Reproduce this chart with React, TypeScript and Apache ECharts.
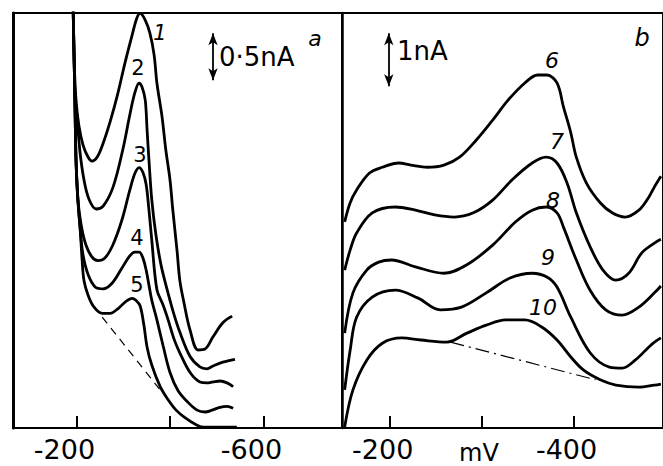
import React, { useEffect, useRef } from "react";
import * as echarts from "echarts";

// Panel a: potential (mV) vs current (nA)
const tickValuesA = [-200, -400, -600];
const labelValuesA = [-200, -600];
const tickValuesB = [-200, -300, -400];
const labelValuesB = [-200, -400];

const curve1 = [[-193,4.43],[-195,3.91],[-199,3.49],[-205,3.22],[-214,3.01],[-225,2.88],[-233,2.84],[-244,2.88],[-257,3.03],[-272,3.26],[-287,3.53],[-304,3.89],[-319,4.18],[-329,4.36],[-336,4.41],[-347,4.34],[-357,4.20],[-366,3.97],[-372,3.67],[-383,3.31],[-391,2.96],[-400,2.64],[-406,2.32],[-415,1.89],[-421,1.57],[-430,1.33],[-443,1.04],[-460,0.83],[-475,0.84],[-492,0.97],[-513,1.12],[-533,1.19]];
const curve2 = [[-201,3.35],[-207,2.96],[-216,2.64],[-227,2.43],[-242,2.33],[-257,2.36],[-278,2.56],[-299,2.96],[-314,3.33],[-325,3.57],[-334,3.67],[-340,3.63],[-347,3.49],[-351,3.17],[-355,2.85],[-361,2.43],[-370,2.05],[-381,1.73],[-394,1.47],[-409,1.20],[-421,1.02],[-443,0.76],[-464,0.65],[-479,0.63],[-492,0.66],[-513,0.70],[-539,0.73]];
const curve3 = [[-193,4.43],[-195,3.91],[-197,3.38],[-199,2.85],[-203,2.43],[-210,2.16],[-220,1.95],[-233,1.82],[-246,1.78],[-261,1.81],[-278,1.95],[-297,2.21],[-314,2.53],[-325,2.71],[-334,2.77],[-342,2.72],[-349,2.59],[-355,2.32],[-361,2.00],[-372,1.47],[-385,1.31],[-396,1.15],[-409,0.94],[-421,0.80],[-443,0.59],[-464,0.49],[-479,0.48],[-492,0.49],[-507,0.50],[-522,0.48],[-535,0.44]];
const curve4 = [[-193,4.43],[-195,3.91],[-197,3.38],[-199,2.85],[-203,2.43],[-208,2.11],[-214,1.84],[-225,1.63],[-240,1.50],[-257,1.48],[-276,1.54],[-297,1.70],[-314,1.83],[-325,1.87],[-334,1.87],[-342,1.81],[-349,1.68],[-355,1.52],[-361,1.36],[-372,1.15],[-385,0.88],[-400,0.59],[-417,0.40],[-439,0.27],[-458,0.19],[-475,0.17],[-490,0.19],[-507,0.22],[-522,0.23],[-535,0.21]];
const curve5 = [[-193,4.43],[-195,3.91],[-197,3.38],[-199,2.85],[-203,2.43],[-208,2.11],[-212,1.79],[-216,1.57],[-225,1.41],[-237,1.29],[-255,1.22],[-272,1.22],[-289,1.27],[-304,1.34],[-319,1.38],[-327,1.36],[-336,1.30],[-344,1.10],[-351,0.86],[-361,0.67],[-379,0.44],[-396,0.30],[-413,0.19],[-432,0.11],[-454,0.04],[-471,0.01],[-496,0.01],[-543,0.01]];
const baselineA = [[-255,1.18],[-383,0.38]];

// Panel b
const curve6 = [[-151,3.89],[-157,4.25],[-164,4.49],[-178,4.81],[-192,4.92],[-210,5.00],[-223,4.96],[-241,4.92],[-259,4.96],[-276,5.11],[-294,5.43],[-312,5.81],[-329,6.19],[-347,6.51],[-361,6.66],[-371,6.66],[-382,6.51],[-389,6.06],[-397,5.57],[-403,5.11],[-414,4.62],[-429,4.25],[-442,4.06],[-456,3.98],[-471,4.11],[-482,4.36],[-488,4.55],[-495,4.75]];
const curve7 = [[-151,2.98],[-157,3.36],[-164,3.68],[-181,4.06],[-206,4.17],[-228,4.11],[-249,4.02],[-270,3.98],[-291,4.06],[-312,4.30],[-333,4.68],[-355,5.00],[-370,5.11],[-382,5.00],[-393,4.62],[-403,4.06],[-418,3.42],[-432,2.98],[-446,2.79],[-460,2.92],[-474,3.30],[-488,3.49],[-495,3.56]];
const curve8 = [[-151,1.79],[-160,2.55],[-175,2.98],[-188,3.13],[-202,3.17],[-228,3.04],[-259,2.92],[-284,3.08],[-312,3.45],[-337,3.89],[-355,4.11],[-370,4.17],[-382,4.06],[-389,3.79],[-403,3.17],[-418,2.60],[-435,2.23],[-453,2.13],[-471,2.28],[-488,2.55],[-495,2.68]];
const curve9 = [[-151,0.72],[-157,1.47],[-164,2.09],[-181,2.47],[-206,2.60],[-231,2.45],[-255,2.23],[-278,2.28],[-305,2.55],[-331,2.83],[-355,2.92],[-371,2.85],[-382,2.66],[-397,2.09],[-418,1.42],[-439,1.15],[-453,1.13],[-467,1.28],[-482,1.53],[-488,1.62],[-495,1.70]];
const curve10 = [[-151,0.02],[-160,0.72],[-175,1.28],[-192,1.60],[-213,1.70],[-234,1.66],[-262,1.62],[-284,1.79],[-305,1.94],[-326,2.04],[-347,2.04],[-365,1.91],[-382,1.66],[-397,1.34],[-411,1.09],[-429,0.91],[-446,0.81],[-471,0.77],[-488,0.81],[-495,0.83]];
const baselineB = [[-266,1.62],[-424,0.91]];

const scaleBarA = [[-492, 3.70], [-492, 4.20]]; // 0.5 nA
const scaleBarB = [[-199, 6.45], [-199, 7.45]]; // 1 nA

const FONT = "'DejaVu Sans', 'Liberation Sans', sans-serif";

export default function App() {
  const ref = useRef<HTMLDivElement>(null);
  useEffect(() => {
    if (!ref.current) return;
    const chart = echarts.init(ref.current, null, { renderer: "svg" });
    const curveStyle = { color: "#000", width: 2.8 };
    const mkCurve = (data: number[][], xi: number, extra: any = {}) => ({
      type: "line",
      data,
      xAxisIndex: xi,
      yAxisIndex: xi,
      smooth: 0.35,
      showSymbol: false,
      symbol: "none",
      lineStyle: curveStyle,
      silent: true,
      ...extra,
    });
    const barMark = (pts: number[][]) => ({
      silent: true,
      symbol: ["arrow", "arrow"],
      symbolSize: [7, 12],
      label: { show: false },
      lineStyle: { color: "#000", width: 1.8, type: "solid" },
      data: [[{ coord: pts[0] }, { coord: pts[1] }]],
    });
    const bottomAxis = (grid: number, min: number, max: number, ticks: number[], labels: number[], pad: number) => ({
      type: "value",
      gridIndex: grid,
      position: "bottom",
      min,
      max,
      inverse: true,
      axisLine: { show: true, onZero: false, lineStyle: { color: "#000", width: 2 } },
      axisTick: { show: true, inside: true, length: 12, customValues: ticks, lineStyle: { color: "#000", width: 2 } },
      axisLabel: {
        show: true,
        customValues: labels,
        formatter: (v: number) => String(v),
        color: "#000",
        fontFamily: FONT,
        fontSize: 27,
        margin: 8,
        padding: [0, pad, 0, 0],
      },
      splitLine: { show: false },
    });
    const leftAxis = (grid: number, max: number, w: number) => ({
      type: "value",
      gridIndex: grid,
      min: 0,
      max,
      axisLine: { show: true, onZero: false, lineStyle: { color: "#000", width: w } },
      axisTick: { show: false },
      axisLabel: { show: false },
      splitLine: { show: false },
    });
    const text = (t: string, x: number, y: number, size: number, italic = false, align = "center") => ({
      type: "text",
      x,
      y,
      silent: true,
      style: {
        text: t,
        fill: "#000",
        font: `${italic ? "italic " : ""}${size}px ${FONT}`,
        align,
        verticalAlign: "middle",
      },
    });

    chart.setOption({
      animation: false,
      backgroundColor: "#fff",
      grid: [
        { left: 13, top: 13, width: 329, height: 415, show: true, borderColor: "#000", borderWidth: 2, backgroundColor: "transparent" },
        { left: 342, top: 13, width: 330, height: 415, show: true, borderColor: "#000", borderWidth: 2, backgroundColor: "transparent" },
      ],
      xAxis: [
        bottomAxis(0, -767.9, -64.2, tickValuesA, labelValuesA, 24),
        bottomAxis(1, -497.3, -148.1, tickValuesB, labelValuesB, 14),
      ],
      yAxis: [leftAxis(0, 4.415, 3), leftAxis(1, 7.83, 2.5)],
      series: [
        mkCurve(curve1, 0, { markLine: barMark(scaleBarA) }),
        mkCurve(curve2, 0),
        mkCurve(curve3, 0),
        mkCurve(curve4, 0),
        mkCurve(curve5, 0),
        {
          type: "line", data: baselineA, xAxisIndex: 0, yAxisIndex: 0, symbol: "none", silent: true,
          lineStyle: { color: "#000", width: 1.2, type: [8, 6] },
        },
        mkCurve(curve6, 1, { markLine: barMark(scaleBarB) }),
        mkCurve(curve7, 1),
        mkCurve(curve8, 1),
        mkCurve(curve9, 1),
        mkCurve(curve10, 1),
        {
          type: "line", data: baselineB, xAxisIndex: 1, yAxisIndex: 1, symbol: "none", silent: true,
          lineStyle: { color: "#000", width: 1.2, type: [14, 5, 2, 5] },
        },
      ],
      graphic: [
        text("1", 160, 33, 21, true),
        text("2", 138, 68, 21),
        text("3", 140, 155, 21),
        text("4", 137, 238, 21),
        text("5", 137, 285, 21),
        text("0·5nA", 219, 57, 26, false, "left"),
        text("a", 315, 38, 22, true),
        text("6", 552, 60, 22, true),
        text("7", 557, 141, 22, true),
        text("8", 553, 200, 22, true),
        text("9", 548, 257, 22, true),
        text("10", 543, 307, 22, true),
        text("1nA", 397, 51, 26, false, "left"),
        text("b", 642, 38, 24, true),
        text("mV", 479, 453, 24),
      ],
    });
    return () => chart.dispose();
  }, []);
  return (
    <div
      ref={ref}
      style={{ position: "fixed", left: 0, top: 0, width: 663, height: 466, background: "#fff" }}
    />
  );
}
